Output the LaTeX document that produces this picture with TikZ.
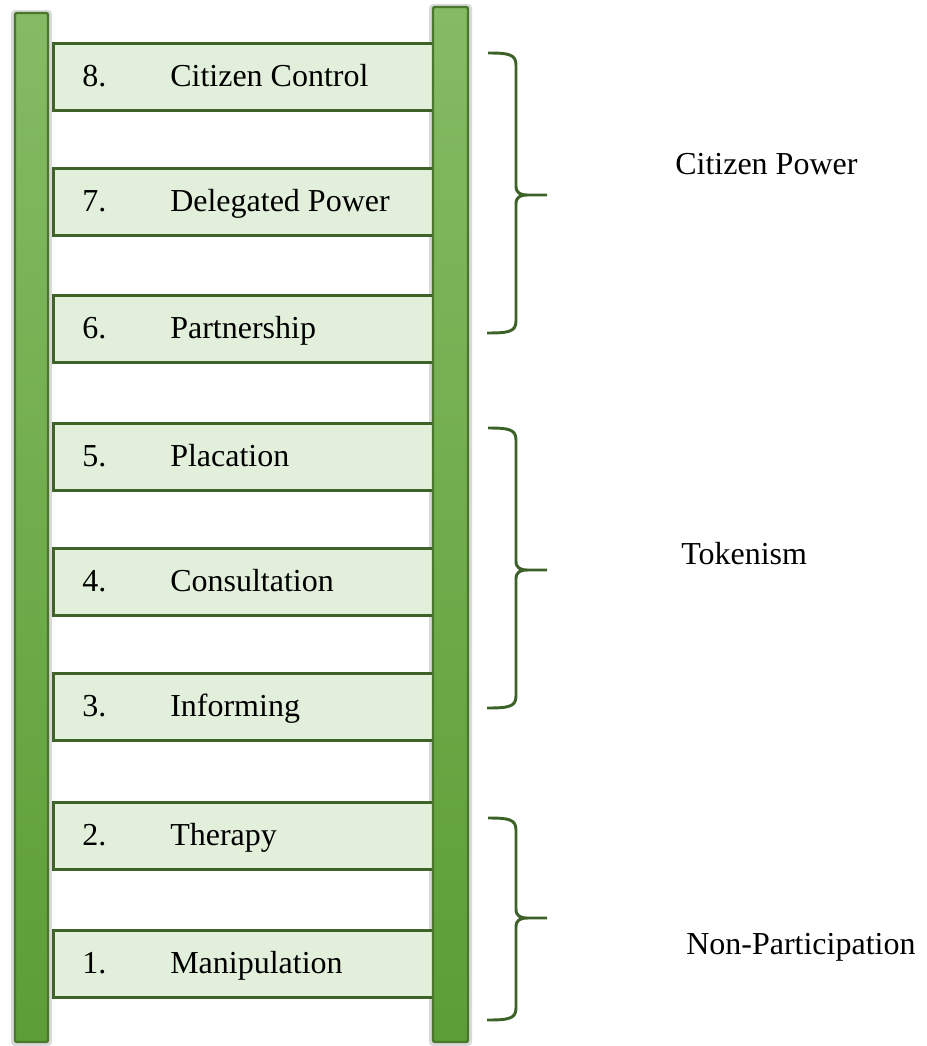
\documentclass[tikz,border=0pt]{standalone}
\usepackage{fontspec}
\setmainfont{Liberation Serif}
\newfontfamily\ladderfont{Liberation Serif}
\usetikzlibrary{positioning}

\definecolor{railtop}{HTML}{85BB64}
\definecolor{railbot}{HTML}{5C9E35}
\definecolor{railline}{HTML}{4A772B}
\definecolor{rungfill}{HTML}{E2EFDA}
\definecolor{rungline}{HTML}{3F6228}
\definecolor{bracecol}{HTML}{3D6228}

\tikzset{
  rail/.style={draw=railline,line width=1.8pt,rounded corners=1.5pt,top color=railtop,bottom color=railbot},
  railshadow/.style={fill=black!15,rounded corners=3pt},
  rung/.style={draw=rungline,line width=2.5pt,fill=rungfill,rectangle,inner sep=0pt,
    minimum width=285pt,minimum height=50pt,anchor=north west},
  lbl/.style={inner sep=0pt,anchor=base west,font=\ladderfont\fontsize{24}{28}\selectfont},
  brace/.style={draw=bracecol,line width=2.2pt,line join=round}
}

\begin{document}
\begin{tikzpicture}[x=0.75pt,y=-0.75pt]
      \useasboundingbox (0,0) rectangle (926,1046);
      % soft shadow behind the rails
      \fill[railshadow] (11,10) rectangle (52,1046);
      \fill[railshadow] (429,4) rectangle (472,1046);
      % rungs, top to bottom
      \foreach \n/\t/\name in {8/42/Citizen Control,7/167/Delegated Power,6/294/Partnership,
          5/422/Placation,4/547/Consultation,3/672/Informing,2/801/Therapy,1/929/Manipulation}
      {
      \node[rung] (rung\n) at (52,\t) {};
      \node[lbl] (num\n) at (82,\t+44) {\n.};
      \node[lbl] (name\n) at (170,\t+44) {\name};
      }
      % the two rails
      \draw[rail] (15,13) rectangle (48,1042);
      \draw[rail] (433,7) rectangle (468,1042);
      % braces
      \foreach \t/\m/\b in {53/195/333,428/570/708,818/918/1020}
      \draw[brace] (488,\t) .. controls (508,\t) and (516,\t+1) .. (516,\t+12)
        -- (516,\m-9) .. controls (516,\m-2) and (520,\m) .. (528,\m) -- (547,\m)
        (528,\m) .. controls (520,\m) and (516,\m+2) .. (516,\m+9)
        -- (516,\b-12) .. controls (516,\b-1) and (508,\b) .. (487,\b);
      \node[lbl] (power) at (675,174) {Citizen Power};
      \node[lbl] (token) at (681,564) {Tokenism};
      \node[lbl] (nonpart) at (686,954) {Non-Participation};
    \end{tikzpicture}
\end{document}
